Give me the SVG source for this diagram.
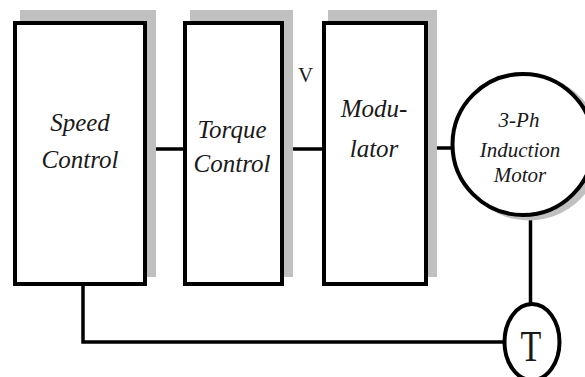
<svg xmlns="http://www.w3.org/2000/svg" width="585" height="377" viewBox="0 0 585 377">
<style>
.shadow{fill:#c0c0c0;stroke:none}
.box{fill:#fff;stroke:#000;stroke-width:4}
.lbl{font-style:italic;font-size:25px;fill:#1a1a1a;text-anchor:middle}
.mlbl{font-style:italic;font-size:21px;fill:#1a1a1a;text-anchor:middle}
.plain{fill:#1a1a1a;text-anchor:middle}
.wire{fill:none;stroke:#000;stroke-width:3.5}
</style>
<rect width="585" height="377" fill="#fff"/>
<g id="connectors">
<line class="wire" x1="146" y1="149" x2="184" y2="149"/>
<line class="wire" x1="283" y1="149" x2="323" y2="149"/>
<line class="wire" x1="427" y1="148" x2="453" y2="148"/>
<path class="wire" d="M83 285 V342 H504"/>
<line class="wire" x1="530.5" y1="216" x2="530.5" y2="304"/>
</g>
<g font-family="'Liberation Serif', 'DejaVu Serif', serif">
<g id="speed-control">
<rect class="shadow" x="20" y="10" width="136" height="267"/>
<rect class="box" x="15" y="23" width="130" height="261"/>
<text class="lbl" x="80" y="131">Speed</text>
<text class="lbl" x="80" y="168">Control</text>
</g>
<g id="torque-control">
<rect class="shadow" x="190" y="10" width="103" height="267"/>
<rect class="box" x="185" y="23" width="97" height="261"/>
<text class="lbl" x="232" y="138">Torque</text>
<text class="lbl" x="232" y="172">Control</text>
</g>
<g id="v-label">
<text class="plain" x="305.5" y="82" font-size="21">V</text>
</g>
<g id="modulator">
<rect class="shadow" x="328" y="10" width="109" height="267"/>
<rect class="box" x="324" y="23" width="102" height="261"/>
<text class="lbl" x="374" y="117">Modu-</text>
<text class="lbl" x="374" y="157">lator</text>
</g>
<g id="motor">
<circle class="shadow" cx="529" cy="148" r="72.5"/>
<circle class="box" cx="523" cy="144.5" r="70.5"/>
<text class="mlbl" x="519" y="127">3-Ph</text>
<text class="mlbl" x="520" y="157">Induction</text>
<text class="mlbl" x="520" y="182">Motor</text>
</g>
<g id="tacho">
<ellipse class="box" cx="532" cy="342" rx="27.5" ry="38"/>
<text class="plain" font-size="34" transform="translate(531,361) scale(1,1.3)">T</text>
</g>
</g>
</svg>
